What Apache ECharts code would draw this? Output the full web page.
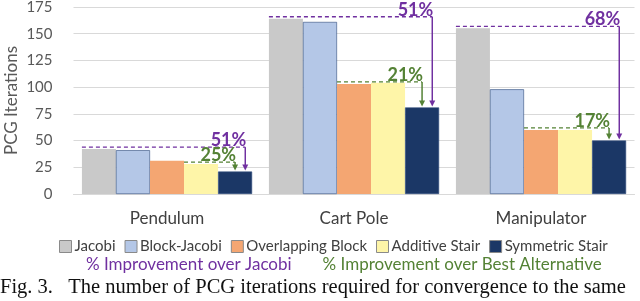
<!DOCTYPE html>
<html><head><meta charset="utf-8">
<script src="https://cdn.jsdelivr.net/npm/echarts@6/dist/echarts.min.js"></script>
<style>html,body{margin:0;padding:0;background:#fff}#c{width:640px;height:301px}</style>
</head><body><div id="c"></div>
<script>
const categories = ['Pendulum', 'Cart Pole', 'Manipulator'];
const jacobi = [42, 164, 155];
const blockJacobi = [41, 161, 98];
const overlapping = [31, 103, 60];
const additive = [28, 104, 60];
const symmetric = [21, 81, 50];
const gainJacobi = ['51%', '51%', '68%'];
const gainBest = ['25%', '21%', '17%'];
const yTicks = [0, 25, 50, 75, 100, 125, 150, 175];

const seriesNames = ['Jacobi', 'Block-Jacobi', 'Overlapping Block', 'Additive Stair', 'Symmetric Stair'];
const seriesData = [jacobi, blockJacobi, overlapping, additive, symmetric];
const colors = ['#c9c9c9', '#b4c7e7', '#f4a672', '#fef5a8', '#1b3766'];
const PURPLE = '#7030a0', GREEN = '#548235';
const GAP = 0.09;
const FONT = 'Lato';

function annot(kind) {
  return function (params, api) {
    const ci = api.value(0);
    const band = api.size([1, 0])[0];
    const bw = band * (1 - GAP) / 5;
    const center = api.coord([ci, 0])[0];
    const gl = center - 2.5 * bw;
    let startIdx, level, frac, color, label;
    if (kind === 'j') {
      startIdx = 0; level = jacobi[ci]; frac = 0.8; color = PURPLE; label = gainJacobi[ci];
    } else {
      const alts = [jacobi[ci], blockJacobi[ci], overlapping[ci], additive[ci]];
      level = Math.min.apply(null, alts); startIdx = alts.indexOf(level);
      frac = 0.5; color = GREEN; label = gainBest[ci];
    }
    const y0 = api.coord([ci, level])[1] - 2;
    const yEnd = api.coord([ci, symmetric[ci]])[1] - 1;
    const x0 = gl + startIdx * bw;
    const x1 = gl + (4 + frac) * bw;
    return {
      type: 'group',
      children: [
        { type: 'line', shape: { x1: x0, y1: y0, x2: x1, y2: y0 }, style: { stroke: color, lineWidth: 1.3, lineDash: [4, 3] } },
        { type: 'line', shape: { x1: x1, y1: y0, x2: x1, y2: yEnd - 5 }, style: { stroke: color, lineWidth: 1.5 } },
        { type: 'polygon', shape: { points: [[x1 - 3, yEnd - 6], [x1 + 3, yEnd - 6], [x1, yEnd]] }, style: { fill: color } },
        { type: 'text', x: x1 + 1, y: y0 + 2, style: { text: label, fill: color, font: 'bold 18px ' + FONT, align: 'right', verticalAlign: 'bottom' } }
      ]
    };
  };
}

const chart = echarts.init(document.getElementById('c'), null, { renderer: 'canvas' });
const series = seriesNames.map((n, i) => ({
  name: n, type: 'bar', data: seriesData[i], barGap: '0%', barCategoryGap: (GAP * 100) + '%',
  itemStyle: { color: colors[i], borderColor: i === 1 || i === 4 ? '#2f4b7c' : 'transparent', borderWidth: i === 1 || i === 4 ? 0.6 : 0 },
  emphasis: { disabled: true }, animation: false
}));
series.push({ name: '% Improvement over Jacobi', type: 'custom', renderItem: annot('j'), data: categories.map((c, i) => [i, jacobi[i]]), encode: { x: 0, y: 1 }, z: 5, animation: false, silent: true, color: PURPLE });
series.push({ name: '% Improvement over Best Alternative', type: 'custom', renderItem: annot('b'), data: categories.map((c, i) => [i, additive[i]]), encode: { x: 0, y: 1 }, z: 5, animation: false, silent: true, color: GREEN });

chart.setOption({
  animation: false,
  grid: { left: 73.5, right: 5.5, top: 7, bottom: 107, containLabel: false, outerBoundsMode: 'none' },
  xAxis: {
    type: 'category', data: categories,
    axisLine: { show: true, lineStyle: { color: '#d9d9d9' } }, axisTick: { show: false },
    axisLabel: { color: '#404040', fontFamily: FONT, fontSize: 17, margin: 16 }
  },
  yAxis: {
    type: 'value', min: yTicks[0], max: yTicks[yTicks.length - 1], interval: yTicks[1] - yTicks[0],
    name: 'PCG Iterations', nameLocation: 'middle', nameGap: 53, nameMoveOverlap: false,
    nameTextStyle: { color: '#595959', fontFamily: FONT, fontSize: 17 },
    axisLine: { show: false }, axisTick: { show: false },
    axisLabel: { color: '#595959', fontFamily: FONT, fontSize: 15, margin: 21 },
    splitLine: { lineStyle: { color: '#d9d9d9', width: 1 } }
  },
  legend: [
    {
      data: seriesNames, left: 54, top: 234, itemWidth: 12, itemHeight: 12, itemGap: 9,
      icon: 'rect', itemStyle: { borderColor: '#8a8a8a', borderWidth: 1 },
      textStyle: { color: '#404040', fontFamily: FONT, fontSize: 15, padding: [0, 0, 0, -2] }, selectedMode: false
    },
    {
      data: [
        { name: '% Improvement over Jacobi', textStyle: { color: PURPLE } },
        { name: '% Improvement over Best Alternative', textStyle: { color: GREEN } }
      ],
      left: 81, top: 251, icon: 'none', itemWidth: 0, itemHeight: 12, itemGap: 31,
      textStyle: { fontFamily: FONT, fontSize: 17, padding: [0, 0, 0, -5] }, selectedMode: false
    }
  ],
  graphic: [
    { type: 'text', left: 0, top: 277, style: { text: 'Fig. 3.   The number of PCG iterations required for convergence to the same', fill: '#111', font: '20.5px "Liberation Serif"' } }
  ],
  series: series
});
</script></body></html>
